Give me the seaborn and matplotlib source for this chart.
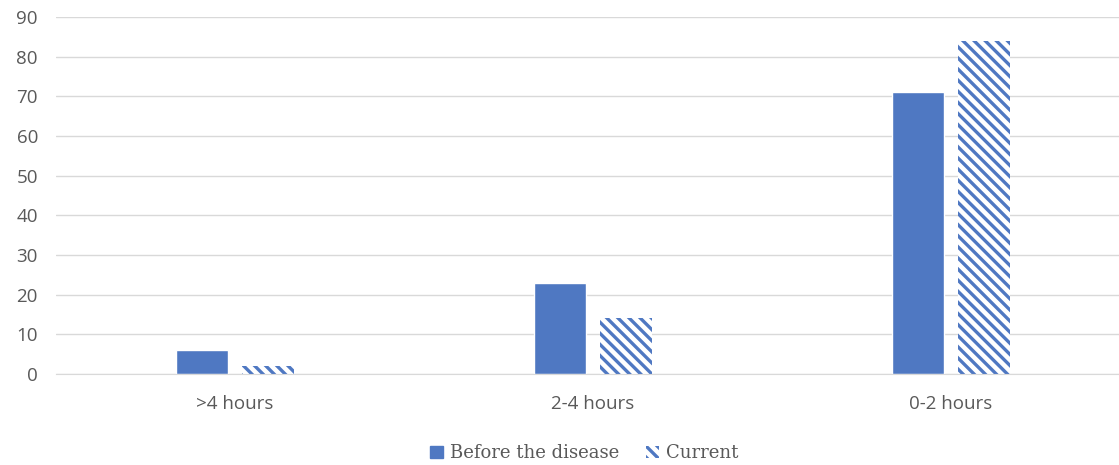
import pandas as pd
import seaborn as sns
import matplotlib.pyplot as plt
from matplotlib.patches import Patch

categories = ['>4 hours', '2-4 hours', '0-2 hours']
series = ['Before the disease', 'Current']
before_values = [6, 23, 71]
current_values = [2, 14, 84]

df = pd.DataFrame({
    'category': categories * 2,
    'value': before_values + current_values,
    'series': [series[0]] * 3 + [series[1]] * 3,
})

sns.set_style('white')
plt.rcParams['font.family'] = ['Open Sans', 'DejaVu Sans']
plt.rcParams['hatch.linewidth'] = 2.4

blue = '#4F78C2'
text_color = '#595959'
hatch = '\\\\\\'

fig = plt.figure(figsize=(11.19, 4.65), dpi=100)
ax = fig.add_axes([56 / 1119, 91 / 465, 1074 / 1119, 357 / 465])

sns.barplot(data=df, x='category', y='value', hue='series', order=categories,
            hue_order=series, palette=[blue, blue], width=0.372, gap=0.22,
            ax=ax, legend=False, saturation=1)

# second series drawn as hatched bars
for bar in ax.patches[3:6]:
    bar.set_facecolor('white')
    bar.set_edgecolor(blue)
    bar.set_hatch(hatch)
    bar.set_linewidth(0)

ax.set_ylim(0, 90)
ax.set_yticks(range(0, 91, 10))
ax.set_xlim(-0.5, 2.5)
ax.yaxis.grid(True, color='#D9D9D9', linewidth=1)
ax.set_axisbelow(True)
for s in ['top', 'right', 'left']:
    ax.spines[s].set_visible(False)
ax.spines['bottom'].set_color('#D9D9D9')
ax.set_xlabel('')
ax.set_ylabel('')
ax.tick_params(axis='both', length=0, labelsize=13.5, colors=text_color)
ax.tick_params(axis='x', pad=15)
ax.tick_params(axis='y', pad=13)
for lbl in ax.get_xticklabels() + ax.get_yticklabels():
    lbl.set_color(text_color)

handles = [Patch(facecolor=blue, edgecolor=blue),
           Patch(facecolor='white', edgecolor=blue, hatch=hatch, linewidth=0)]
leg = fig.legend(handles, series, loc='center', bbox_to_anchor=(0.522, 0.025),
                 ncol=2, frameon=False, handlelength=0.7, handleheight=0.7,
                 handletextpad=0.4, columnspacing=1.5,
                 prop={'family': 'DejaVu Serif', 'size': 13})
for t in leg.get_texts():
    t.set_color(text_color)

fig.savefig('out.png', dpi=100)
